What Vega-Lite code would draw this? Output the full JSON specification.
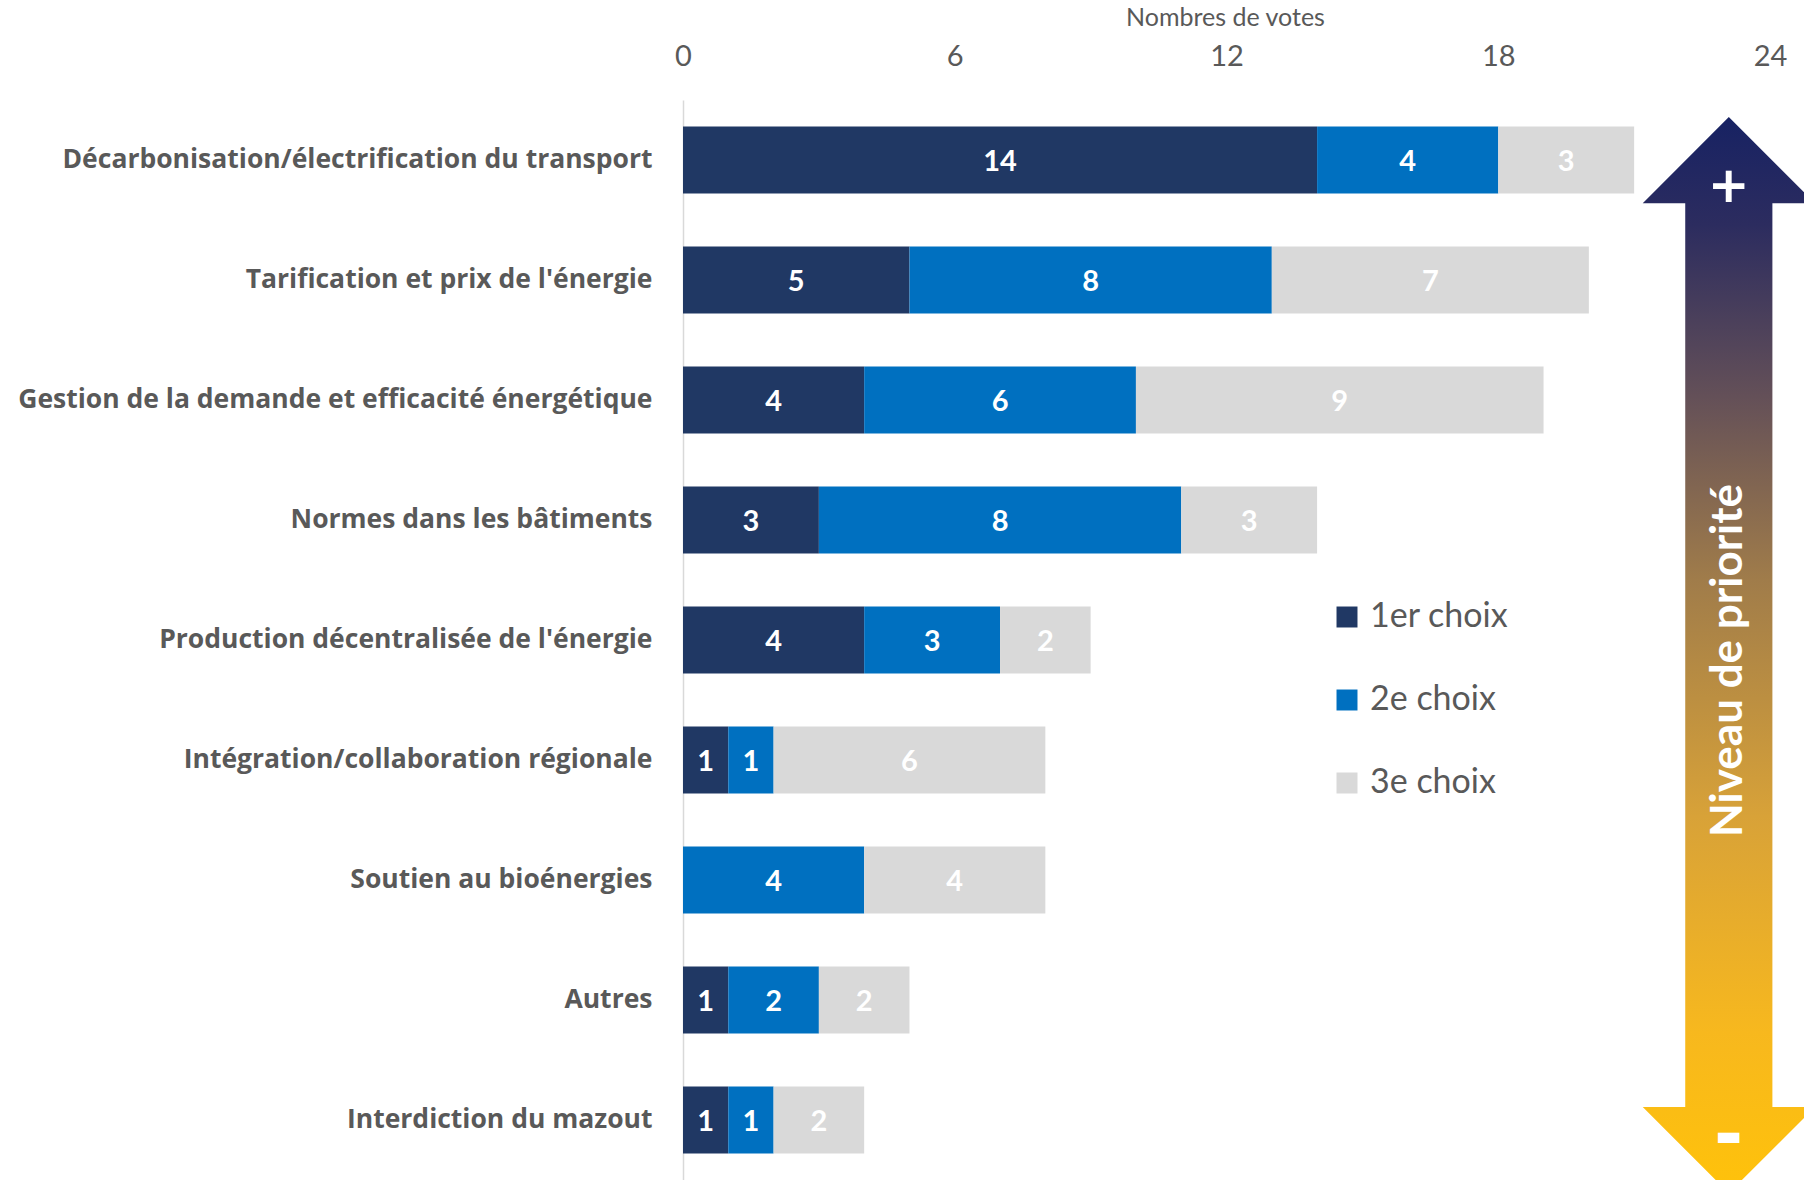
{
  "$schema": "https://vega.github.io/schema/vega-lite/v6.json",
  "autosize": {"type": "none"},
  "padding": {"left": 683, "top": 100, "right": 0, "bottom": 0},
  "width": 1121,
  "height": 1080,
  "background": "white",
  "config": {"view": {"stroke": null}, "font": "Lato"},
  "datasets": {
    "votes": [
      {"categorie": "Décarbonisation/électrification du transport", "choix": "1er choix", "rang": 1, "votes": 14},
      {"categorie": "Décarbonisation/électrification du transport", "choix": "2e choix", "rang": 2, "votes": 4},
      {"categorie": "Décarbonisation/électrification du transport", "choix": "3e choix", "rang": 3, "votes": 3},
      {"categorie": "Tarification et prix de l'énergie", "choix": "1er choix", "rang": 1, "votes": 5},
      {"categorie": "Tarification et prix de l'énergie", "choix": "2e choix", "rang": 2, "votes": 8},
      {"categorie": "Tarification et prix de l'énergie", "choix": "3e choix", "rang": 3, "votes": 7},
      {"categorie": "Gestion de la demande et efficacité énergétique", "choix": "1er choix", "rang": 1, "votes": 4},
      {"categorie": "Gestion de la demande et efficacité énergétique", "choix": "2e choix", "rang": 2, "votes": 6},
      {"categorie": "Gestion de la demande et efficacité énergétique", "choix": "3e choix", "rang": 3, "votes": 9},
      {"categorie": "Normes dans les bâtiments", "choix": "1er choix", "rang": 1, "votes": 3},
      {"categorie": "Normes dans les bâtiments", "choix": "2e choix", "rang": 2, "votes": 8},
      {"categorie": "Normes dans les bâtiments", "choix": "3e choix", "rang": 3, "votes": 3},
      {"categorie": "Production décentralisée de l'énergie", "choix": "1er choix", "rang": 1, "votes": 4},
      {"categorie": "Production décentralisée de l'énergie", "choix": "2e choix", "rang": 2, "votes": 3},
      {"categorie": "Production décentralisée de l'énergie", "choix": "3e choix", "rang": 3, "votes": 2},
      {"categorie": "Intégration/collaboration régionale", "choix": "1er choix", "rang": 1, "votes": 1},
      {"categorie": "Intégration/collaboration régionale", "choix": "2e choix", "rang": 2, "votes": 1},
      {"categorie": "Intégration/collaboration régionale", "choix": "3e choix", "rang": 3, "votes": 6},
      {"categorie": "Soutien au bioénergies", "choix": "2e choix", "rang": 2, "votes": 4},
      {"categorie": "Soutien au bioénergies", "choix": "3e choix", "rang": 3, "votes": 4},
      {"categorie": "Autres", "choix": "1er choix", "rang": 1, "votes": 1},
      {"categorie": "Autres", "choix": "2e choix", "rang": 2, "votes": 2},
      {"categorie": "Autres", "choix": "3e choix", "rang": 3, "votes": 2},
      {"categorie": "Interdiction du mazout", "choix": "1er choix", "rang": 1, "votes": 1},
      {"categorie": "Interdiction du mazout", "choix": "2e choix", "rang": 2, "votes": 1},
      {"categorie": "Interdiction du mazout", "choix": "3e choix", "rang": 3, "votes": 2}
    ],
    "fleche": [{"nom": "Niveau de priorité"}]
  },
  "resolve": {"scale": {"y": "independent"}},
  "layer": [
    {
      "data": {"name": "votes"},
      "transform": [
        {"stack": "votes", "groupby": ["categorie"], "sort": [{"field": "rang", "order": "ascending"}], "as": ["v0", "v1"]},
        {"calculate": "(datum.v0 + datum.v1) / 2", "as": "vmid"}
      ],
      "encoding": {
        "y": {
          "field": "categorie", "type": "nominal",
          "sort": ["Décarbonisation/électrification du transport", "Tarification et prix de l'énergie", "Gestion de la demande et efficacité énergétique", "Normes dans les bâtiments", "Production décentralisée de l'énergie", "Intégration/collaboration régionale", "Soutien au bioénergies", "Autres", "Interdiction du mazout"],
          "scale": {"paddingInner": 0.44, "paddingOuter": 0.22},
          "axis": {
            "title": null, "ticks": false, "domain": true, "domainColor": "#d9d9d9", "domainWidth": 1.5,
            "labelFont": "Open Sans", "labelFontWeight": "bold", "labelFontSize": 26.5, "labelColor": "#595959",
            "labelPadding": 31, "labelLimit": 700
          }
        }
      },
      "layer": [
        {
          "mark": {"type": "bar"},
          "encoding": {
            "x": {
              "field": "v0", "type": "quantitative",
              "scale": {"domain": [0, 24.75], "nice": false, "zero": true},
              "axis": {
                "orient": "top", "values": [0, 6, 12, 18, 24], "grid": false, "ticks": false, "domain": false,
                "labelFlush": false,
                "labelFont": "Lato", "labelFontSize": 29, "labelColor": "#595959", "labelPadding": 29,
                "title": "Nombres de votes", "titleFont": "Lato", "titleFontWeight": "normal", "titleFontSize": 25,
                "titleColor": "#595959", "titlePadding": 12, "titleX": 542, "titleAnchor": "middle"
              }
            },
            "x2": {"field": "v1"},
            "color": {
              "field": "choix", "type": "nominal",
              "scale": {"domain": ["1er choix", "2e choix", "3e choix"], "range": ["#203864", "#0070c0", "#d9d9d9"]},
              "legend": {
                "orient": "none", "legendX": 647, "legendY": 500, "title": null, "padding": 0,
                "symbolType": "square", "symbolSize": 440, "symbolStrokeWidth": 0,
                "labelFont": "Lato", "labelFontSize": 34, "labelColor": "#595959", "labelOffset": 6,
                "rowPadding": 49
              }
            }
          }
        },
        {
          "mark": {"type": "text", "color": "white", "fontWeight": "bold", "fontSize": 29, "font": "Lato", "baseline": "middle", "dy": 2},
          "encoding": {
            "x": {"field": "vmid", "type": "quantitative"},
            "text": {"field": "votes", "type": "quantitative"}
          }
        }
      ]
    },
    {
      "data": {"name": "fleche"},
      "encoding": {
        "x": {"datum": 23.09, "type": "quantitative"}
      },
      "layer": [
        {
          "mark": {
            "type": "point", "filled": true, "opacity": 1, "strokeWidth": 0,
            "shape": "M0,-1 L0.16,-0.84 L0.081,-0.84 L0.081,0.84 L0.16,0.84 L0,1 L-0.16,0.84 L-0.081,0.84 L-0.081,-0.84 L-0.16,-0.84 Z",
            "size": 1157776,
            "color": {
              "gradient": "linear", "x1": 0, "y1": 0, "x2": 0, "y2": 1,
              "stops": [
                {"offset": 0, "color": "#172263"},
                {"offset": 0.1, "color": "#2c2c5f"},
                {"offset": 0.26, "color": "#645058"},
                {"offset": 0.43, "color": "#a07c4a"},
                {"offset": 0.65, "color": "#d8a238"},
                {"offset": 0.85, "color": "#f7b81e"},
                {"offset": 1, "color": "#ffc20a"}
              ]
            }
          },
          "encoding": {
            "y": {"datum": 0.486, "type": "quantitative", "scale": {"domain": [0, 1]}, "axis": null}
          }
        },
        {
          "mark": {"type": "text", "text": "+", "color": "white", "fontWeight": "bold", "fontSize": 50, "font": "DejaVu Sans", "baseline": "middle"},
          "encoding": {
            "y": {"datum": 0.919, "type": "quantitative"}
          }
        },
        {
          "mark": {"type": "text", "text": "▬", "color": "white", "fontSize": 28, "font": "DejaVu Sans", "baseline": "middle"},
          "encoding": {
            "y": {"datum": 0.04, "type": "quantitative"}
          }
        },
        {
          "mark": {"type": "text", "color": "white", "fontWeight": "bold", "fontSize": 44, "font": "Lato", "angle": 270, "baseline": "middle", "align": "center"},
          "encoding": {
            "y": {"datum": 0.481, "type": "quantitative"},
            "text": {"field": "nom", "type": "nominal"}
          }
        }
      ]
    }
  ]
}
